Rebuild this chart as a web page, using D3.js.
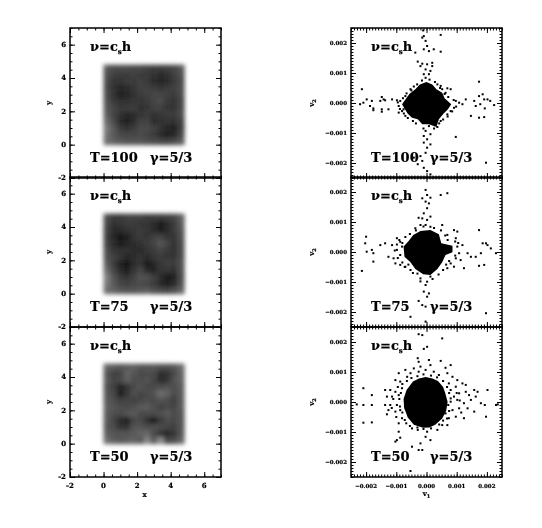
<!DOCTYPE html>
<html>
<head>
<meta charset="utf-8">
<script src="https://cdn.jsdelivr.net/npm/d3@7"></script>
<style>
body { margin: 0; background: #fff; }
svg { display: block; filter: blur(0.35px); }
text { font-family: "DejaVu Serif", "Liberation Serif", serif; font-weight: bold; fill: #000; stroke: #000; stroke-width: 0.2px; }
</style>
</head>
<body>
<svg id="chart" width="542" height="528"></svg>
<script>
const timeLabels = ["T=100", "T=75", "T=50"];
const mapTicks = [-2, 0, 2, 4, 6];
const mapMinorTicks = d3.range(-2, 7.01, 0.5);
const velTicks = [-2, -1, 0, 1, 2]; // units of 0.001
const velMinorTicks = d3.range(-25, 25.01, 1).map((d) => d / 10);
const mapExtent = 4.8;

// grey level read per cell, top row first
const mapT100 = [
	[125,115,115,115,110,110,105,100,100,105,110,125],
	[120,105,100,100,105,100,100,90,85,90,105,120],
	[115,95,95,100,100,105,100,85,80,85,100,115],
	[110,90,80,85,95,105,105,100,95,100,105,115],
	[115,90,75,80,90,100,105,110,110,105,100,115],
	[120,100,90,90,95,95,100,110,115,100,95,110],
	[125,110,100,100,100,90,95,105,105,95,95,110],
	[130,110,90,80,85,95,100,90,95,100,100,115],
	[145,115,85,75,85,105,110,85,90,95,90,105],
	[160,130,100,90,100,115,115,105,90,80,75,100],
	[155,130,115,110,110,115,110,100,85,75,80,110],
	[150,140,130,125,125,125,120,115,110,110,115,130],
];
const mapT75 = [
	[115,100,100,105,105,105,100,100,100,105,110,135],
	[110,90,95,100,100,95,95,85,70,85,100,130],
	[105,85,85,90,95,100,95,85,70,85,100,125],
	[100,80,65,70,90,100,95,105,110,95,95,120],
	[105,85,70,80,85,90,100,110,125,110,90,115],
	[115,95,90,90,85,85,95,100,110,100,90,115],
	[120,105,95,80,85,90,85,95,100,95,95,115],
	[130,100,75,65,85,95,65,80,95,105,100,120],
	[145,110,85,70,95,110,85,75,95,95,90,120],
	[165,125,100,90,105,125,120,105,85,70,75,115],
	[160,130,110,105,110,115,110,100,80,70,85,120],
	[150,140,130,125,125,130,135,120,115,110,120,140],
];
const mapT50 = [
	[140,130,125,130,135,125,125,125,120,120,125,145],
	[125,105,110,140,125,115,120,115,85,90,115,140],
	[130,110,115,135,120,120,125,110,85,95,125,140],
	[120,105,75,90,115,125,115,115,120,125,120,130],
	[125,110,70,95,120,110,115,125,150,140,115,130],
	[130,120,105,110,105,110,120,115,125,120,105,130],
	[135,125,120,115,120,130,135,120,105,115,110,130],
	[130,120,115,125,130,115,115,115,120,130,115,125],
	[130,110,85,75,110,115,90,65,100,120,115,125],
	[125,115,95,90,125,125,120,120,115,110,105,125],
	[135,125,125,125,130,140,145,115,90,80,95,125],
	[150,135,130,135,140,130,175,135,180,115,120,140],
];

// solid centre of each scatter, outline in units of 0.001
const coreT100 = [[0,.7],[.19,.62],[.33,.46],[.52,.34],[.6,.16],[.82,-.04],[.71,-.21],[.56,-.36],[.41,-.54],[.33,-.8],[.08,-.71],[-.14,-.71],[-.29,-.54],[-.48,-.49],[-.62,-.36],[-.73,-.18],[-.81,-.04],[-.67,.16],[-.56,.31],[-.37,.46],[-.22,.62]];
const coreT75 = [[-.2,.7],[.13,.73],[.41,.59],[.49,.29],[.86,.21],[.86,-.01],[.63,-.1],[.52,-.34],[.36,-.57],[.13,-.77],[-.11,-.74],[-.37,-.57],[-.53,-.34],[-.73,-.16],[-.76,.18],[-.59,.37],[-.44,.57]];
const coreT50 = [[-.03,.83],[.2,.78],[.38,.7],[.55,.5],[.62,.3],[.7,0],[.65,-.3],[.52,-.55],[.3,-.75],[.1,-.85],[-.12,-.86],[-.42,-.76],[-.62,-.52],[-.74,-.2],[-.76,.1],[-.66,.4],[-.45,.68],[-.25,.78]];

// loose points, units of 0.001
const pointsT100 = [
	[-.11,2.42],[-.03,2.07],[-.14,2.18],[.02,1.9],[-.09,1.79],[.08,1.73],[.24,1.79],[.47,1.71],[-.29,1.38],[-.14,1.31],[.02,1.29],[.19,1.34],[-.2,1.23],[-.03,1.12],[.13,1.07],[-.09,.96],[.08,.96],[-.03,.84],[.47,2.27],[-.09,2.23],[-.37,1.68],[.19,1.23],
	[-2.14,.46],[-2.09,.01],[-1.98,.12],[-1.81,.07],[-1.87,-.1],[-1.76,-.18],[-1.53,.07],[-1.42,.12],[-1.48,.2],[-1.37,.09],[-1.14,.12],[-.98,.09],[-.87,.07],[-.92,-.1],[-1.76,-.24],[-1.48,-.21],[-1.26,-.21],[-1.48,-.29],[-.92,-.32],[-.81,-.27],[-2.2,-.04],[-.7,.23],
	[1.3,.12],[1.58,.07],[1.63,-.1],[1.74,.23],[1.86,.29],[1.91,.12],[1.78,-.04],[2.02,.12],[2.11,.07],[2.24,-.07],[1.93,-.18],[1.47,-.43],[1.74,-.49],[1.91,-.47],[1.74,.71],[.97,-1.13],[.69,.49],[.8,.46],[.47,.57],[.97,.07],[1.08,.01],[.91,-.16],[1.19,-.04],
	[-.03,-.93],[.08,-.77],[-.09,-1.1],[.02,-1.21],[.13,-1.04],[-.09,-1.32],[.13,-1.38],[.02,-1.49],[-.03,-1.66],[-.2,-1.77],[-.14,-1.93],[-.29,-2.04],[-.09,-2.16],[.13,-2.38],[.02,-2.27],[1.97,-1.99],[-.42,-1.82],
	[.36,.62],[.52,.46],[.63,.34],[.8,-.27],[.69,-.38],[.47,-.6],[.36,-.8],[-.31,.62],[-.53,.46],[-.76,-.21],[-.7,-.43],
	[.45,.5],[.6,.3],[.72,.2],[.9,.1],[.98,-.12],[.85,-.28],[.7,-.45],[.55,-.55],[.42,-.68],[.25,-.85],[-.1,-.85],[-.35,-.68],[-.45,-.6],[-.62,-.5],[-.75,-.35],[-.88,-.2],[-.95,.02],[-.78,.16],[-.66,.32],[-.5,.42],[-.42,.55],[-.15,.75],[.1,.78],[.28,.7],
];
const pointsT75 = [
	[-.03,2.07],[.02,1.9],[-.14,1.79],[.13,1.81],[.47,1.9],[.69,1.96],[-.03,1.68],[.08,1.62],[.02,1.46],[-.09,1.29],[-.14,1.12],[-.26,1.14],[.02,1.07],[.13,1.18],[-.2,.9],[-.03,.9],[.13,.84],[-.37,.79],[.52,.9],[.69,.57],[.91,.73],[1.02,.68],[1.74,.73],
	[-2,.51],[-2.03,.29],[-1.81,.07],[-1.98,.01],[-1.76,-.04],[-1.53,.23],[-1.37,.29],[-1.14,.23],[-.98,.46],[-.87,.34],[-1.26,-.16],[-1.76,-.32],[-2.14,-.63],[-1.09,-.21],[-1.03,-.38],[-.87,-.43],[-.7,-.49],[-.98,.07],[-.81,.18],[-.87,-.1],[-.53,-.6],
	[1.02,.18],[1.19,.23],[1.08,-.04],[.97,-.21],[1.13,-.27],[1.36,-.04],[1.47,-.16],[1.63,-.16],[1.8,-.04],[1.86,.29],[1.97,.29],[2.02,.23],[2.13,.12],[2.3,-.04],[1.74,-.46],[1.91,-.43],[1.24,-.54],[.91,-.49],[.8,-.38],[.69,-.54],[.97,.46],
	[.02,-.99],[-.03,-1.1],[-.09,-1.32],[.08,-1.38],[.02,-1.49],[-.26,-1.63],[-.14,-1.77],[-.03,-1.82],[-.53,-2.16],[-.03,-2.32],[1.97,-2.04],[.13,-.82],[-.2,-.88],
	[-.9,.4],[-.98,.25],[-1.05,.05],[-.95,-.2],[-.8,-.35],[-.72,-.5],[-.6,-.42],[-.45,-.7],[-.3,-.72],[-.2,-.98],[.2,-.9],[.4,-.75],[.55,-.6],[.65,-.42],[.75,-.3],[.95,-.12],[1.05,.3],[.95,.35],[.7,.4],[.62,.55],[.48,.72],[.25,.8],[-.1,.85],[-.35,.72],[-.55,.6],[-.7,.5],[-.8,.3],
];
const pointsT50 = [
	[-.14,2.23],[-.26,2.26],[.52,2.12],[.02,1.84],[-.09,1.77],[-.29,1.46],[-.26,1.34],[.08,1.4],[.47,1.37],[.13,1.23],[.8,1.23],[.63,1.14],[-.2,1.18],[-.42,1.12],[-.7,1.07],[-.92,.96],[-.53,.96],[-.26,1.01],[-.03,1.07],[.24,1.01],[.41,.9],[.69,.96],[.86,.84],[-.64,.84],[-1.03,.73],[-.87,.68],[1.02,.73],
	[.74,.62],[.97,.51],[1.19,.62],[1.3,.57],[.8,.4],[1.08,.29],[1.3,.34],[1.58,.4],[1.69,.34],[1.41,.23],[.91,.18],[.8,.01],[1.02,.07],[1.24,-.04],[1.47,.07],[1.63,.18],[1.8,-.04],[1.93,-.1],[2.02,.4],[2.3,-.1],[2.36,-.08],[1.97,-.49],[1.36,-.21],[1.58,-.32],[1.08,-.21],[.86,-.27],[1.24,-.54],[.97,-.49],[.74,-.54],[.69,-.77],[.52,-.77],[.36,-.93],[.63,-.38],
	[-2.09,.46],[-1.81,.23],[-1.81,-.1],[-2.09,-.1],[-2.31,-.08],[-2.09,-.69],[-1.81,-.68],[-1.37,.4],[-1.2,.4],[-1.03,.34],[-1.31,.18],[-1.14,.18],[-.92,.23],[-.81,.46],[-1.2,-.1],[-1.37,-.1],[-1.26,-.27],[-.98,-.1],[-1.03,-.32],[-.87,-.27],[-1.31,-.41],[-.81,-.54],[-.92,-.71],[-.67,-.71],[-.48,-.88],[-.92,-.99],[-.29,-.93],[.02,-.99],
	[-.98,-1.27],[-1.03,-1.32],[-.03,-1.16],[-.2,-1.38],[-.48,-1.49],[-.14,-1.6],[-.26,-1.6],[-.53,-2.3],[-.87,-1.19],[.13,-1.27],
	[-.8,.6],[-.65,.7],[-.5,.8],[-.3,.86],[-.1,.92],[.15,.88],[.35,.82],[.55,.7],[.68,.5],[.75,.3],[.8,.12],[.72,-.1],[.75,-.3],[.68,-.55],[.55,-.62],[.42,-.75],[.15,-.88],[-.1,-.9],[-.3,-.85],[-.55,-.8],[-.72,-.6],[-.8,-.35],[-.88,-.15],[-.9,.1],[-.85,.3],[-.95,.5],[-1.1,.1],[-1.15,-.2],[-1,-.5],[1.1,.05],[1,.3],[1.15,-.35],
];

const maps = [mapT100, mapT75, mapT50];
const cores = [coreT100, coreT75, coreT50];
const points = [pointsT100, pointsT75, pointsT50];

const panelTops = [28, 177, 327];
const panelHeight = 150;
const panelWidth = 151;
const leftX = 70;
const rightX = 351;

const svg = d3.select("#chart");

const blur = svg.append("defs").append("filter")
	.attr("id", "soft")
	.attr("x", "-10%").attr("y", "-10%")
	.attr("width", "120%").attr("height", "120%");
blur.append("feGaussianBlur").attr("stdDeviation", 2);

// stretched a little: the blur flattens the dark patches
const grey = d3.scaleLinear().domain([40, 300]).range(["#000", "#fff"]);
const formatVel = (d) => d3.format(".3f")(d / 1000);

function drawFrame(g, x, y, major, minor, format, showX, labelSize) {
	const w = panelWidth, h = panelHeight;
	const axes = [
		[d3.axisBottom(x), [0, h]],
		[d3.axisTop(x), [0, 0]],
		[d3.axisLeft(y), [0, 0]],
		[d3.axisRight(y), [w, 0]],
	];
	axes.forEach(([axis, pos]) => {
		g.append("g")
			.attr("transform", `translate(${pos[0]},${pos[1]})`)
			.call(axis.tickValues(minor).tickSize(-2.5).tickFormat(""))
			.call((s) => s.select(".domain").remove());
		g.append("g")
			.attr("transform", `translate(${pos[0]},${pos[1]})`)
			.call(axis.tickValues(major).tickSize(-5).tickFormat(""))
			.call((s) => s.select(".domain").remove());
	});
	g.append("rect")
		.attr("width", w).attr("height", h)
		.attr("fill", "none").attr("stroke", "#000").attr("stroke-width", 1.5);

	// tick labels, left always, bottom only on the last row
	g.selectAll(".ylab").data(major).join("text")
		.attr("class", "ylab")
		.attr("x", -4).attr("y", (d) => y(d)).attr("dy", "0.35em")
		.attr("text-anchor", "end").attr("font-size", labelSize)
		.text(format);
	if (showX) {
		g.selectAll(".xlab").data(major).join("text")
			.attr("class", "xlab")
			.attr("x", (d) => x(d)).attr("y", h + 11)
			.attr("text-anchor", "middle").attr("font-size", labelSize)
			.text(format);
	}
}

function drawLabels(g, time, gammaX) {
	const nu = g.append("text").attr("x", 20).attr("y", 23).attr("font-size", 13);
	nu.append("tspan").text("ν=c");
	nu.append("tspan").attr("dy", 3).attr("font-size", 7).text("s");
	nu.append("tspan").attr("dy", -3).text("h");
	g.append("text").attr("x", 20).attr("y", 134).attr("font-size", 13).text(time);
	g.append("text").attr("x", gammaX).attr("y", 134).attr("font-size", 13).text("γ=5/3");
}

panelTops.forEach((top, i) => {
	const last = i === panelTops.length - 1;

	// position map
	const x = d3.scaleLinear().domain([-2, 7]).range([0, panelWidth]);
	const y = d3.scaleLinear().domain([-2, 7]).range([panelHeight, 0]);
	const gMap = svg.append("g").attr("transform", `translate(${leftX},${top})`);
	const col = d3.scaleBand().domain(d3.range(12)).range([x(0), x(mapExtent)]);
	const row = d3.scaleBand().domain(d3.range(12)).range([y(mapExtent), y(0)]);
	gMap.append("g").attr("filter", "url(#soft)")
		.selectAll("g").data(maps[i]).join("g")
		.attr("transform", (d, r) => `translate(0,${row(r)})`)
		.selectAll("rect").data((d) => d).join("rect")
		.attr("x", (d, c) => col(c))
		.attr("width", col.bandwidth() + 0.5)
		.attr("height", row.bandwidth() + 0.5)
		.attr("fill", (d) => grey(d));
	drawFrame(gMap, x, y, mapTicks, mapMinorTicks, (d) => d, last, 7);
	drawLabels(gMap, timeLabels[i], 80);
	gMap.append("text")
		.attr("transform", `translate(-19,${panelHeight / 2}) rotate(-90)`)
		.attr("text-anchor", "middle").attr("font-size", 7).text("y");
	if (last) {
		gMap.append("text").attr("x", panelWidth / 2 - 1).attr("y", panelHeight + 20)
			.attr("text-anchor", "middle").attr("font-size", 7).text("x");
	}

	// velocity scatter
	const vx = d3.scaleLinear().domain([-2.5, 2.5]).range([0, panelWidth]);
	const vy = d3.scaleLinear().domain([-2.5, 2.5]).range([panelHeight, 0]);
	const gVel = svg.append("g").attr("transform", `translate(${rightX},${top})`);
	gVel.append("path")
		.datum(cores[i])
		.attr("fill", "#000")
		.attr("d", d3.line().x((d) => vx(d[0])).y((d) => vy(d[1])).curve(d3.curveLinearClosed));
	gVel.selectAll(".pt").data(points[i]).join("rect")
		.attr("class", "pt")
		.attr("x", (d) => vx(d[0]) - 1)
		.attr("y", (d) => vy(d[1]) - 1)
		.attr("width", 2).attr("height", 2)
		.attr("fill", "#000");
	drawFrame(gVel, vx, vy, velTicks, velMinorTicks, formatVel, last, 5.5);
	drawLabels(gVel, timeLabels[i], 79);
	const v2 = gVel.append("text")
		.attr("transform", `translate(-37,${panelHeight / 2}) rotate(-90)`)
		.attr("text-anchor", "middle").attr("font-size", 7);
	v2.append("tspan").text("v");
	v2.append("tspan").attr("dy", 1.5).attr("font-size", 5).text("2");
	if (last) {
		const v1 = gVel.append("text").attr("x", panelWidth / 2).attr("y", panelHeight + 19)
			.attr("text-anchor", "middle").attr("font-size", 7);
		v1.append("tspan").text("v");
		v1.append("tspan").attr("dy", 1.5).attr("font-size", 5).text("1");
	}
});
</script>
</body>
</html>
